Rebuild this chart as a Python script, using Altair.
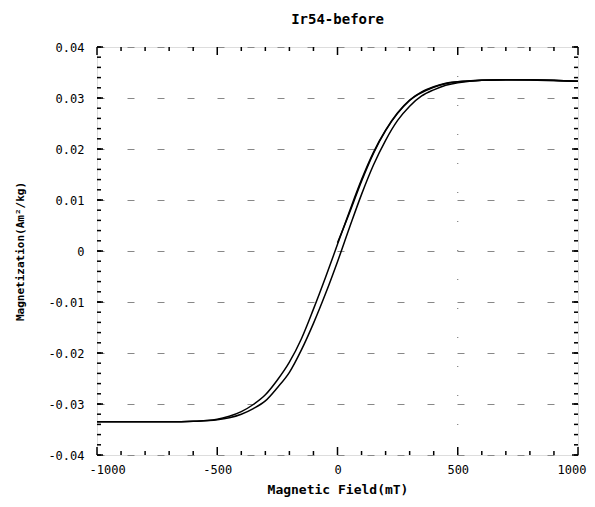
import altair as alt
import pandas as pd

# ---- data ----
field = [-1000, -900, -800, -700, -600, -500, -450, -400, -350, -300, -250, -200, -150, -100, -50,
         0, 50, 100, 150, 200, 250, 300, 350, 400, 450, 500, 600, 700, 800, 900, 1000]
m_desc = [-0.0335, -0.0335, -0.0335, -0.0335, -0.0334, -0.0330, -0.0324, -0.0315, -0.0301, -0.0282,
          -0.0253, -0.0218, -0.0172, -0.0114, -0.0052, 0.0013, 0.0078, 0.0140, 0.0194, 0.0237,
          0.0271, 0.0296, 0.0312, 0.0322, 0.0329, 0.0332, 0.0335, 0.0336, 0.0336, 0.0335, 0.0333]
m_asc = [-0.0335, -0.0335, -0.0335, -0.0335, -0.0334, -0.0331, -0.0327, -0.0320, -0.0309, -0.0294,
         -0.0268, -0.0238, -0.0194, -0.0142, -0.0084, -0.0021, 0.0046, 0.0111, 0.0169, 0.0217,
         0.0256, 0.0284, 0.0304, 0.0316, 0.0325, 0.0330, 0.0335, 0.0336, 0.0336, 0.0335, 0.0333]
init_field = [0, 25, 50, 100, 150, 200, 300, 400, 500, 700, 1000]
init_m = [0.0016, 0.0045, 0.0075, 0.0137, 0.0192, 0.0236, 0.0295, 0.0321, 0.0332, 0.0336, 0.0333]

x_major = [-1000, -500, 0, 500, 1000]
x_minor = [-900, -800, -700, -600, -400, -300, -200, -100, 100, 200, 300, 400, 600, 700, 800, 900]
y_major = [-0.04, -0.03, -0.02, -0.01, 0.0, 0.01, 0.02, 0.03, 0.04]
y_minor = [round(-0.04 + 0.002 * k, 3) for k in range(41)]
v_grid = [500]

rows = []
for i, (h, m) in enumerate(zip(init_field, init_m)):
    rows.append({"H": h, "M": m, "branch": "initial", "i": i})
for i, (h, m) in enumerate(zip(field[::-1], m_desc[::-1])):
    rows.append({"H": h, "M": m, "branch": "descending", "i": i})
for i, (h, m) in enumerate(zip(field, m_asc)):
    rows.append({"H": h, "M": m, "branch": "ascending", "i": i})
df = pd.DataFrame(rows)

W, HGT = 481, 408
FONT = "DejaVu Sans Mono"

xs = alt.Scale(domain=[-1000, 1000], nice=False, zero=False)
ys = alt.Scale(domain=[-0.04, 0.04], nice=False, zero=False)

lines = alt.Chart(df).mark_line(color="black", strokeWidth=1.5, interpolate="monotone").encode(
    x=alt.X("H:Q", scale=xs,
            axis=alt.Axis(values=x_major, ticks=False, domain=False, grid=False,
                          labelFlush=True, labelFlushOffset=8,
                          labelFont=FONT, labelFontSize=12, labelColor="black", labelPadding=9,
                          labelExpr="replace(format(datum.value, 'd'), '\u2212', '-')",
                          title="Magnetic Field(mT)", titleFont=FONT, titleFontSize=13,
                          titleFontWeight="bold", titleColor="black", titlePadding=8)),
    y=alt.Y("M:Q", scale=ys,
            axis=alt.Axis(values=y_major, ticks=False, domain=False, grid=True, labelFlush=False,
                          gridDash=[7, 23], gridColor="#888", gridWidth=1,
                          labelFont=FONT, labelFontSize=12, labelColor="black", labelPadding=13,
                          labelExpr="datum.value == 0 ? '0' : replace(format(datum.value, '.2f'), '\u2212', '-')",
                          title="Magnetization(Am²/kg)", titleFont=FONT, titleFontSize=11,
                          titleFontWeight="bold", titleColor="black", titlePadding=22)),
    detail="branch:N",
    order="i:Q",
)

vgrid = alt.Chart(pd.DataFrame({"v": v_grid})).mark_rule(
    color="#666", strokeWidth=1, strokeDash=[1, 28]).encode(x=alt.X("v:Q", scale=xs))


def xticks(vals, length):
    d = pd.DataFrame({"v": vals})
    bot = alt.Chart(d).mark_rule(color="black", strokeWidth=1.5).encode(
        x=alt.X("v:Q", scale=xs), y=alt.value(HGT), y2=alt.value(HGT - length))
    top = alt.Chart(d).mark_rule(color="black", strokeWidth=1.5).encode(
        x=alt.X("v:Q", scale=xs), y=alt.value(0), y2=alt.value(length))
    return [bot, top]


def yticks(vals, length):
    d = pd.DataFrame({"v": vals})
    left = alt.Chart(d).mark_rule(color="black", strokeWidth=1.5).encode(
        y=alt.Y("v:Q", scale=ys), x=alt.value(0), x2=alt.value(length))
    right = alt.Chart(d).mark_rule(color="black", strokeWidth=1.5).encode(
        y=alt.Y("v:Q", scale=ys), x=alt.value(W), x2=alt.value(W - length))
    return [left, right]


layers = [vgrid, lines] + xticks(x_major, 8) + xticks(x_minor, 4) + yticks(y_major, 6) + yticks(y_minor, 4)

chart = alt.layer(*layers).properties(
    width=W, height=HGT,
    title=alt.TitleParams("Ir54-before", font=FONT, fontSize=14, fontWeight="bold",
                          color="black", offset=14, anchor="middle"),
    autosize=alt.AutoSizeParams(type="none"),
    padding={"left": 89, "top": 39, "right": 9, "bottom": 42},
).configure_view(stroke="black", strokeWidth=2).configure(background="white")

chart.save("out.html", embed_options={"renderer": "svg", "actions": False})
